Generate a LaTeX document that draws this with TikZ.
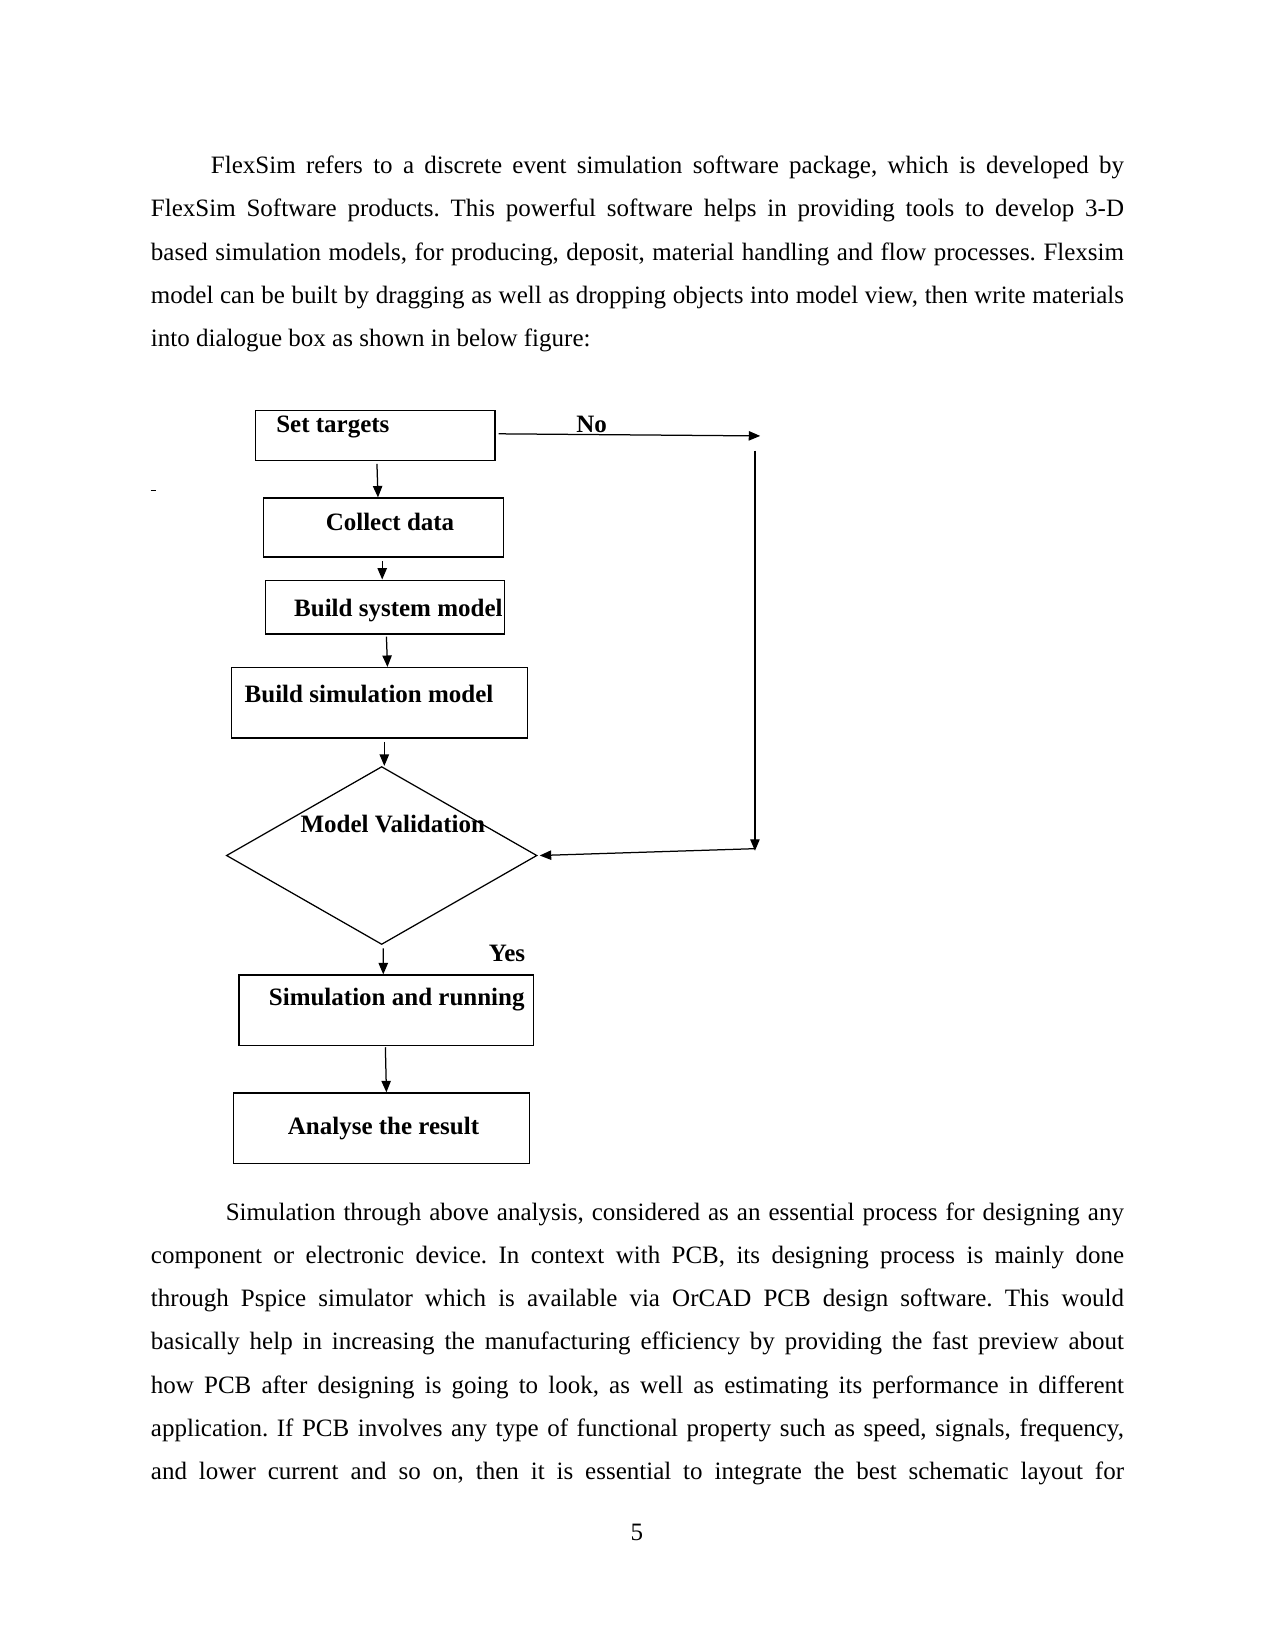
\documentclass[tikz,border=0pt]{standalone}
\usepackage{fontspec}
\setmainfont{Liberation Serif}
\usetikzlibrary{shapes.geometric,arrows.meta,fit,calc}
\frenchspacing
\begin{document}
\begin{tikzpicture}[x=0.50535pt,y=-0.50535pt,
  box/.style={draw,line width=0.6pt,inner sep=0pt},
  lbl/.style={anchor=base west,inner sep=0pt,font=\fontsize{12}{14}\selectfont\bfseries},
  para/.style={anchor=base west,inner sep=0pt,text width=467pt,align=justify,font=\fontsize{12}{20.72}\selectfont\frenchspacing},
  arr/.style={line width=0.6pt,-{Triangle[length=5.5pt,width=4.5pt]}},
  ln/.style={line width=0.6pt}
]
\useasboundingbox[fill=white] (0,0) rectangle (1211,1568);

% paragraph 1
\node[para] (p1) at (143,165) {\hspace*{28.8pt}FlexSim refers to a discrete event simulation software package, which is developed by\linebreak FlexSim Software products. This powerful software helps in providing tools to develop 3-D\linebreak based simulation models, for producing, deposit, material handling and flow processes. Flexsim\linebreak model can be built by dragging as well as dropping objects into model view, then write materials\linebreak into dialogue box as shown in below figure:};

% boxes
\node[box,fit={(243,390) (470,437)}] (st) {};
\node[box,fit={(250,473) (478,529)}] (cd) {};
\node[box,fit={(252,551) (479,602)}] (bs) {};
\node[box,fit={(220,634) (501,701)}] (bsm) {};
\node[draw,line width=0.6pt,diamond,inner sep=0pt,minimum width=149.08pt,minimum height=85.4pt] (mv) at (362.5,812.5) {};
\node[box,fit={(227,926) (507,993)}] (sr) {};
\node[box,fit={(222,1038) (503,1105)}] (ar) {};

% labels
\node[lbl] (tst) at (262,411) {Set targets};
\node[lbl] (tno) at (547,411) {No};
\node[lbl] (tcd) at (309,503.5) {Collect data};
\node[lbl] (tbs) at (279,585.5) {Build system model};
\node[lbl] (tbsm) at (232,667.5) {Build simulation model};
\node[lbl] (tmv) at (285,790.5) {Model Validation};
\node[lbl] (tyes) at (464,913.5) {Yes};
\node[lbl] (tsr) at (255,954.5) {Simulation and running};
\node[lbl] (tar) at (273,1077.5) {Analyse the result};

% connectors
\coordinate (noEnd) at (722,414);
\coordinate (vTop) at (717,428);
\coordinate (vBot) at (717,808);
\draw[arr] ($(st.east)+(3,-1.5)$) -- (noEnd);
\draw[arr] (vTop) -- (vBot);
\draw[arr] ($(vBot)+(0,-2)$) -- ($(mv.east)+(2,0)$);

\draw[arr] ($(st.south)+(1.5,3)$) -- ($(cd.north)+(-5,0)$);
\draw[arr] ($(cd.south)+(-1,3)$) -- ($(bs.north)+(-2.5,0)$);
\draw[arr] ($(bs.south)+(1.5,2)$) -- ($(bsm.north)+(7.5,0)$);
\draw[arr] ($(bsm.south)+(4.5,3)$) -- ($(mv.north)+(2.5,0)$);
\draw[arr] ($(mv.south)+(1.5,3)$) -- ($(sr.north)+(-3,0)$);
\draw[arr] ($(sr.south)+(-1,1)$) -- ($(ar.north)+(4.5,0)$);

% stray dash
\draw[line width=0.5pt] (143,465.5) -- (148.5,465.5);

% paragraph 2
\node[para] (p2) at (143,1159) {\hspace*{35.9pt}Simulation through above analysis, considered as an essential process for designing any\linebreak component or electronic device. In context with PCB, its designing process is mainly done\linebreak through Pspice simulator which is available via OrCAD PCB design software. This would\linebreak basically help in increasing the manufacturing efficiency by providing the fast preview about\linebreak how PCB after designing is going to look, as well as estimating its performance in different\linebreak application. If PCB involves any type of functional property such as speed, signals, frequency,\linebreak and lower current and so on, then it is essential to integrate the best schematic layout for\parfillskip=0pt\par};

% page number
\node[anchor=base,inner sep=0pt,font=\fontsize{12}{14}\selectfont] (pg) at (604.8,1463) {5};
\end{tikzpicture}
\end{document}
